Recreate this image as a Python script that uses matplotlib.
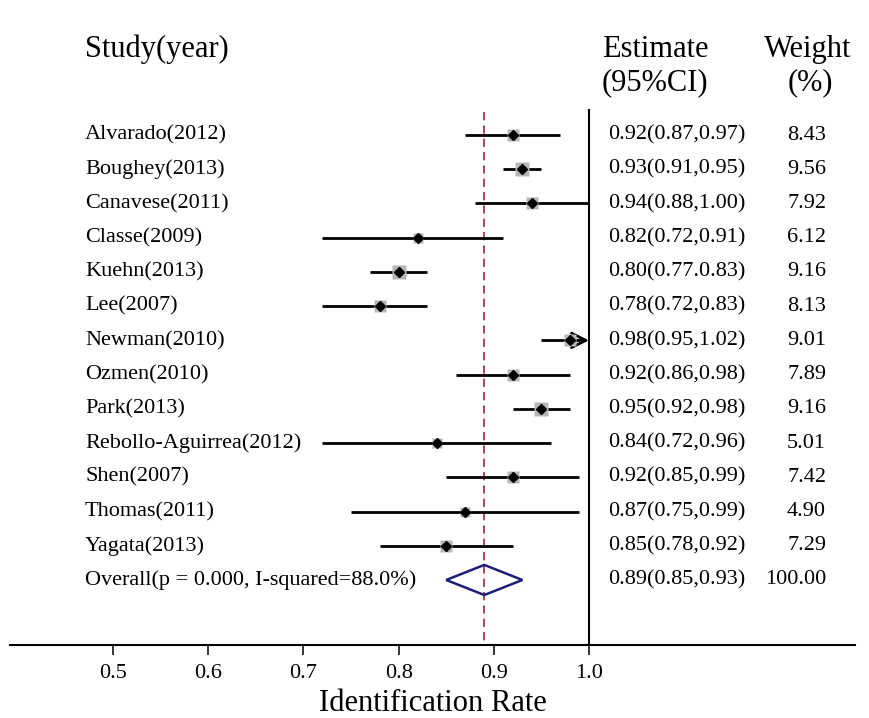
#! /usr/bin/env python3

from numpy import sqrt
from matplotlib.pyplot import figure, rcParams
from matplotlib.patches import Polygon

studies = [
  'Alvarado(2012)', 'Boughey(2013)', 'Canavese(2011)', 'Classe(2009)',
  'Kuehn(2013)', 'Lee(2007)', 'Newman(2010)', 'Ozmen(2010)', 'Park(2013)',
  'Rebollo-Aguirrea(2012)', 'Shen(2007)', 'Thomas(2011)', 'Yagata(2013)'
]
est = [0.92, 0.93, 0.94, 0.82, 0.80, 0.78, 0.98, 0.92, 0.95, 0.84, 0.92, 0.87, 0.85]
lo = [0.87, 0.91, 0.88, 0.72, 0.77, 0.72, 0.95, 0.86, 0.92, 0.72, 0.85, 0.75, 0.78]
hi = [0.97, 0.95, 1.00, 0.91, 0.83, 0.83, 1.02, 0.98, 0.98, 0.96, 0.99, 0.99, 0.92]
weights = [8.43, 9.56, 7.92, 6.12, 9.16, 8.13, 9.01, 7.89, 9.16, 5.01, 7.42, 4.90, 7.29]
# printed as in the source (Kuehn has a typo there)
ci_labels = [
  '0.92(0.87,0.97)', '0.93(0.91,0.95)', '0.94(0.88,1.00)', '0.82(0.72,0.91)',
  '0.80(0.77.0.83)', '0.78(0.72,0.83)', '0.98(0.95,1.02)', '0.92(0.86,0.98)',
  '0.95(0.92,0.98)', '0.84(0.72,0.96)', '0.92(0.85,0.99)', '0.87(0.75,0.99)',
  '0.85(0.78,0.92)'
]
overall_label = 'Overall(p = 0.000, I-squared=88.0%)'
overall_est, overall_lo, overall_hi = 0.89, 0.85, 0.93
overall_ci = '0.89(0.85,0.93)'
overall_weight = 100.00
xticks = [0.5, 0.6, 0.7, 0.8, 0.9, 1.0]
null_value = 1.0

if __name__ == '__main__':
  rcParams['font.family'] = 'Liberation Serif'
  fig = figure(figsize=(8.7, 7.18), dpi=100)
  ax = fig.add_axes([10/870, 73/718, 845/870, 635/718])
  ax.set_xlim(0.3918, 1.2794)
  ax.set_ylim(14.90, -3.652)

  n = len(studies)
  for i in range(n):
    if hi[i] > null_value:
      ax.plot([lo[i], null_value - 0.01], [i, i], color='black', lw=2.0, solid_capstyle='butt', zorder=2)
      ax.annotate('', xy=(null_value, i), xytext=(null_value - 0.02, i),
                  arrowprops=dict(arrowstyle='->', color='black', lw=2.0, mutation_scale=26,
                                  shrinkA=0, shrinkB=0),
                  zorder=2)
    else:
      ax.plot([lo[i], hi[i]], [i, i], color='black', lw=2.0, solid_capstyle='butt', zorder=2)
    ax.plot(est[i], i, marker='s', ms=3.1*sqrt(weights[i]), color='#b6b6b6', mec='none', zorder=3)
    ax.plot(est[i], i, marker='D', ms=5.5, color='black', zorder=4)
    ax.text(0.4706, i, studies[i], ha='left', va='center', fontsize=16)
    ax.text(1.020, i, ci_labels[i], ha='left', va='center', fontsize=16)
    ax.text(1.249, i, f'{weights[i]:.2f}', ha='right', va='center', fontsize=16)

  # pooled estimate
  yo = n
  dia = Polygon([(overall_lo, yo), (overall_est, yo - 0.44), (overall_hi, yo), (overall_est, yo + 0.44)],
                closed=True, fill=False, edgecolor='#1c1f78', lw=1.8, zorder=3)
  ax.add_patch(dia)
  ax.text(0.4706, yo, overall_label, ha='left', va='center', fontsize=16)
  ax.text(1.020, yo, overall_ci, ha='left', va='center', fontsize=16)
  ax.text(1.249, yo, f'{overall_weight:.2f}', ha='right', va='center', fontsize=16)

  ax.plot([null_value, null_value], [-0.73, 14.90], color='black', lw=1.5, zorder=1)
  ax.plot([overall_est, overall_est], [-0.67, 14.90], color='#a3293a', lw=1.2,
          linestyle=(0, (5, 3)), zorder=1)

  # headers
  ax.text(0.4706, -2.50, 'Study(year)', ha='left', va='center', fontsize=22)
  ax.text(1.0137, -2.51, 'Estimate', ha='left', va='center', fontsize=22)
  ax.text(1.0137, -1.52, '(95%CI)', ha='left', va='center', fontsize=22)
  ax.text(1.230, -2.51, 'Weight', ha='center', va='center', fontsize=22)
  ax.text(1.233, -1.52, '(%)', ha='center', va='center', fontsize=22)

  for s in ['top', 'left', 'right']:
    ax.spines[s].set_visible(False)
  ax.spines['bottom'].set_linewidth(1.5)
  ax.set_yticks([])
  ax.set_xticks(xticks)
  ax.set_xticklabels([f'{t:.1f}' for t in xticks])
  ax.tick_params(axis='x', direction='out', length=7, width=1.1, labelsize=16, pad=7)
  ax.set_xlabel('Identification Rate', fontsize=22, labelpad=4)

  fig.savefig('out.png', dpi=100)
